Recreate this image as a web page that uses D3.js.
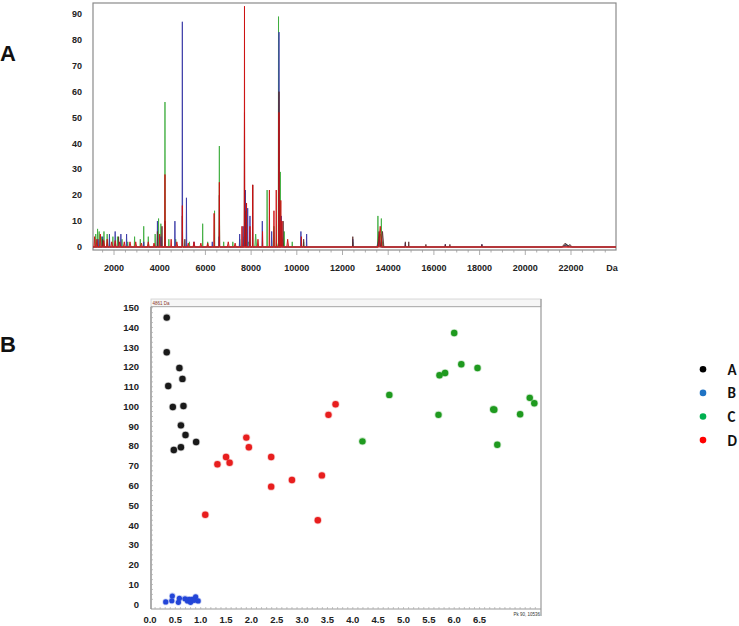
<!DOCTYPE html>
<html>
<head>
<meta charset="utf-8">
<script src="https://cdn.jsdelivr.net/npm/d3@7"></script>
<style>
  html, body { margin: 0; padding: 0; background: #fff; }
  svg { display: block; font-family: "Liberation Sans", Arial, sans-serif; }
</style>
</head>
<body>
<svg id="chart" width="739" height="626"></svg>
<script>
// ---------------- DATA ----------------
// Panel A: mass spectra peaks [mass (Da), intensity, half-width (Da)]
const greenPeaks = [
  [1200,5,15],[1280,7,15],[1350,6,15],[1450,4,15],[1560,6,15],[1700,5,15],[1800,3,15],[1950,4,15],
  [2150,4,15],[2350,3,15],[2600,2,15],[2900,4,15],[3150,3,15],[3300,8,15],[3500,4,15],[3800,5,15],
  [3950,11,15],[4050,9,15],[4230,56,12],[4400,3,15],[4700,3,15],[5000,3,15],[5300,2,15],
  [5880,9,12],[6100,2,15],[6400,14,12],[6610,39,12],[6800,2,15],[7200,2,15],[7500,3,15],
  [7700,4,60],[7900,2,60],[8200,5,40],[8700,22,12],[9000,8,40],[9200,89,12],[9280,29,12],
  [9300,5,150],[9450,6,15],[9800,2,15],[10300,2,15],[12450,2,15],[13550,12,15],[13650,5,150],
  [13700,11,15],[21800,1,200]
];
const bluePeaks = [
  [1300,3,15],[1500,4,15],[1800,5,15],[2050,6,15],[2300,5,15],[2550,5,15],[3300,2,15],
  [3900,10,12],[4050,4,15],[4665,10,12],[4990,87,12],[5170,19,12],[5500,2,15],[6300,2,15],
  [6600,4,15],[7500,5,15],[7650,8,15],[7750,22,12],[7850,15,12],[7950,12,12],[8490,10,12],
  [8900,6,15],[9220,83,12],[9320,12,15],[10180,6,12],[10430,5,12],[12450,3,15],[13600,3,80],
  [14750,1.5,15],[16500,1,15],[18100,1,15],[21800,1,150]
];
const darkPeaks = [
  [1500,3,15],[2200,4,15],[3900,6,15],[4100,8,15],[4230,10,12],[4990,12,12],[5100,3,15],
  [6610,20,12],[7710,52,12],[7780,14,12],[8070,24,12],[9220,60,12],[9400,10,15],[10300,3,15],
  [12450,4,15],[13600,6,60],[13750,6,60],[14750,2,15],[14900,2,15],[15650,1,15],[16500,1,15],
  [16700,1,15],[18100,1,15],[21750,1.5,150],[21950,1,100]
];
const redPeaks = [
  [1150,4,30],[1250,3,30],[1400,5,30],[1550,2.5,40],[1700,3,30],[1900,2,40],[2050,2.5,40],
  [2250,2,40],[2450,2,40],[2700,2,40],[2950,2,40],[3200,1.5,40],[3500,2,40],[3750,1.5,40],
  [4000,5,20],[4230,28,12],[4500,3,20],[4750,2,40],[4990,16,12],[5250,1.5,40],[5500,2,40],
  [5800,1.5,40],[6100,1.5,40],[6380,13,12],[6610,25,12],[7000,2,40],[7300,1.5,40],
  [7600,8,15],[7710,93,10],[7800,17,12],[7950,8,15],[8070,24,12],[8300,3,30],[8500,6,15],
  [8800,22,12],[9000,14,12],[9100,22,12],[9220,52,10],[9300,18,12],[9350,10,15],[9600,3,40],
  [10200,4,15],[13650,8,80]
];

const xTicksA = [2000,4000,6000,8000,10000,12000,14000,16000,18000,20000,22000];
const yTicksA = [0,10,20,30,40,50,60,70,80,90];

// Panel B: scatter groups [x, y]
const groupA = [
  [0.33,145],[0.33,127.5],[0.58,119.5],[0.64,114],[0.36,110.4],[0.45,99.8],[0.66,100.3],
  [0.61,90.5],[0.70,85.6],[0.91,82.1],[0.47,78],[0.61,79.4]
];
const groupB = [
  [0.31,1.2],[0.44,4.2],[0.43,1.8],[0.58,3.0],[0.56,1.0],[0.69,2.8],[0.74,1.7],
  [0.77,2.5],[0.80,1.0],[0.83,2.5],[0.90,3.8],[0.95,1.7],[0.87,2.0]
];
const groupC = [
  [4.19,82.4],[4.72,105.9],[5.71,115.8],[5.82,117],[6.00,137.2],[6.14,121.4],[6.46,119.5],
  [5.69,95.8],[6.77,98.6],[6.79,98.4],[6.85,80.7],[7.30,96.1],[7.49,104.4],[7.58,101.7]
];
const groupD = [
  [1.90,84.3],[1.95,79.4],[1.33,70.8],[1.50,74.5],[1.57,71.6],[2.39,74.5],[2.39,59.5],
  [2.80,62.9],[3.39,65.2],[3.31,42.5],[1.09,45.3],[3.52,95.8],[3.66,101.2]
];
const xTicksB = [0.0,0.5,1.0,1.5,2.0,2.5,3.0,3.5,4.0,4.5,5.0,5.5,6.0,6.5];
const yTicksB = [0,10,20,30,40,50,60,70,80,90,100,110,120,130,140,150];
const legendLabels = ["A","B","C","D"];

// ---------------- DRAW ----------------
const svg = d3.select("#chart");

// Panel labels
svg.append("text").attr("x", 0).attr("y", 61).text("A")
  .attr("font-size", 22).attr("font-weight", "bold").attr("font-family", "Liberation Sans, Arial").attr("fill", "#111");
svg.append("text").attr("x", 0).attr("y", 352).text("B")
  .attr("font-size", 22).attr("font-weight", "bold").attr("font-family", "Liberation Sans, Arial").attr("fill", "#111");

// ===== Panel A =====
const xA = d3.scaleLinear().domain([1080, 23970]).range([93, 616]);
const yA = d3.scaleLinear().domain([0, 90]).range([247, 14]);
const gA = svg.append("g");

gA.append("rect").attr("x", 93).attr("y", 3).attr("width", 523).attr("height", 247)
  .attr("fill", "#fff").attr("stroke", "#8a8a8a").attr("stroke-width", 1.2);

// minor ticks on x
const minorA = d3.range(1500, 24000, 500);
gA.selectAll(".mtA").data(minorA).join("line")
  .attr("x1", d => xA(d)).attr("x2", d => xA(d))
  .attr("y1", 250).attr("y2", d => d % 2000 === 0 ? 255 : 252.5)
  .attr("stroke", "#999").attr("stroke-width", 0.8);

function peakPoints(peaks) {
  const pts = [[xA.domain()[0], 0]];
  peaks.slice().sort((a, b) => a[0] - b[0]).forEach(([m, h, w]) => {
    pts.push([m - w, 0], [m, h], [m + w, 0]);
  });
  pts.push([xA.domain()[1], 0]);
  return pts;
}
const areaA = d3.area().x(d => xA(d[0])).y0(yA(0)).y1(d => yA(d[1]));
const lineA = d3.line().x(d => xA(d[0])).y(d => yA(d[1]));

const seriesA = [
  { peaks: greenPeaks, color: "#3bab3b", op: 0.85 },
  { peaks: bluePeaks, color: "#3a3aa6", op: 0.9 },
  { peaks: darkPeaks, color: "#5a2a2a", op: 0.85 },
  { peaks: redPeaks, color: "#cc1010", op: 0.9 }
];
seriesA.forEach(s => {
  const pts = peakPoints(s.peaks);
  gA.append("path").attr("d", areaA(pts)).attr("fill", s.color).attr("fill-opacity", 0.4);
  gA.append("path").attr("d", lineA(pts)).attr("fill", "none")
    .attr("stroke", s.color).attr("stroke-width", 1).attr("stroke-opacity", s.op);
});
// red baseline
gA.append("line").attr("x1", 93).attr("x2", 616).attr("y1", yA(0)).attr("y2", yA(0))
  .attr("stroke", "#d23030").attr("stroke-width", 1);

gA.selectAll(".ylA").data(yTicksA).join("text")
  .attr("x", 82).attr("y", d => yA(d)).attr("dy", "0.35em")
  .attr("text-anchor", "end").attr("font-size", 9).attr("font-weight", "bold").attr("fill", "#222")
  .text(d => d);
gA.selectAll(".xlA").data(xTicksA).join("text")
  .attr("x", d => xA(d)).attr("y", 268).attr("dy", "0.35em")
  .attr("text-anchor", "middle").attr("font-size", 9).attr("font-weight", "bold").attr("fill", "#222")
  .text(d => d);
gA.append("text").attr("x", 612).attr("y", 268).attr("dy", "0.35em").attr("text-anchor", "middle")
  .attr("font-size", 9).attr("font-weight", "bold").attr("fill", "#222").text("Da");

// ===== Panel B =====
const xB = d3.scaleLinear().domain([0, 7.7]).range([150, 540.4]);
const yB = d3.scaleLinear().domain([0, 150]).range([604.3, 307.7]);
const gB = svg.append("g");

// header strip
gB.append("rect").attr("x", 151).attr("y", 299).attr("width", 390).attr("height", 7.5)
  .attr("fill", "#f6f6f6").attr("stroke", "#cfcfcf").attr("stroke-width", 0.8);
gB.append("text").attr("x", 152.5).attr("y", 304.6).attr("font-size", 4.5)
  .attr("fill", "#8b3a2a").text("4861 Da");
// frame
gB.append("line").attr("x1", 151).attr("x2", 541).attr("y1", 306.7).attr("y2", 306.7)
  .attr("stroke", "#aaa").attr("stroke-width", 1);
gB.append("line").attr("x1", 541).attr("x2", 541).attr("y1", 299).attr("y2", 616)
  .attr("stroke", "#999").attr("stroke-width", 1.2);
gB.append("line").attr("x1", 151).attr("x2", 151).attr("y1", 306.7).attr("y2", 609)
  .attr("stroke", "#777").attr("stroke-width", 1.2);
gB.append("line").attr("x1", 151).attr("x2", 541).attr("y1", 609).attr("y2", 609)
  .attr("stroke", "#999").attr("stroke-width", 1);

// minor ticks
gB.selectAll(".mtBx").data(d3.range(0.1, 7.7, 0.1)).join("line")
  .attr("x1", d => xB(d)).attr("x2", d => xB(d)).attr("y1", 607).attr("y2", 609)
  .attr("stroke", "#aaa").attr("stroke-width", 0.7);
gB.selectAll(".mtBy").data(d3.range(2.5, 151, 2.5)).join("line")
  .attr("x1", 151).attr("x2", 153).attr("y1", d => yB(d)).attr("y2", d => yB(d))
  .attr("stroke", "#aaa").attr("stroke-width", 0.7);

gB.append("text").attr("x", 540).attr("y", 615.5).attr("text-anchor", "end")
  .attr("font-size", 4.5).attr("fill", "#333").text("Pk 90, 10536");

gB.selectAll(".ylB").data(yTicksB).join("text")
  .attr("x", 139).attr("y", d => yB(d)).attr("dy", "0.35em")
  .attr("text-anchor", "end").attr("font-size", 9.5).attr("font-weight", "bold").attr("fill", "#222")
  .text(d => d);
gB.selectAll(".xlB").data(xTicksB).join("text")
  .attr("x", d => xB(d)).attr("y", 620).attr("dy", "0.35em")
  .attr("text-anchor", "middle").attr("font-size", 9.5).attr("font-weight", "bold").attr("fill", "#222")
  .text(d => d.toFixed(1));

const groups = [
  { pts: groupA, color: "#1a1a1a", r: 3.2 },
  { pts: groupB, color: "#2446d8", r: 2.6 },
  { pts: groupC, color: "#1f9a1f", r: 3.2 },
  { pts: groupD, color: "#e81e1e", r: 3.2 }
];
groups.forEach(g => {
  gB.append("g").selectAll("circle").data(g.pts).join("circle")
    .attr("cx", d => xB(d[0])).attr("cy", d => yB(d[1])).attr("r", g.r)
    .attr("fill", g.color).attr("stroke", g.color).attr("stroke-opacity", 0.25).attr("stroke-width", 1.6);
});

// Legend
const legendColors = ["#000000", "#1f73c4", "#00b050", "#ff0000"];
const lg = svg.append("g");
legendLabels.forEach((lab, i) => {
  const y = 369.3 + i * 23.6;
  lg.append("circle").attr("cx", 703).attr("cy", y).attr("r", 3.3).attr("fill", legendColors[i]);
  lg.append("text").attr("x", 727.5).attr("y", y).attr("dy", "0.36em")
    .attr("font-size", 15).attr("font-weight", "bold").attr("font-family", "Carlito, Lato, Liberation Sans, Arial")
    .attr("fill", "#111").text(lab);
});
</script>
</body>
</html>
